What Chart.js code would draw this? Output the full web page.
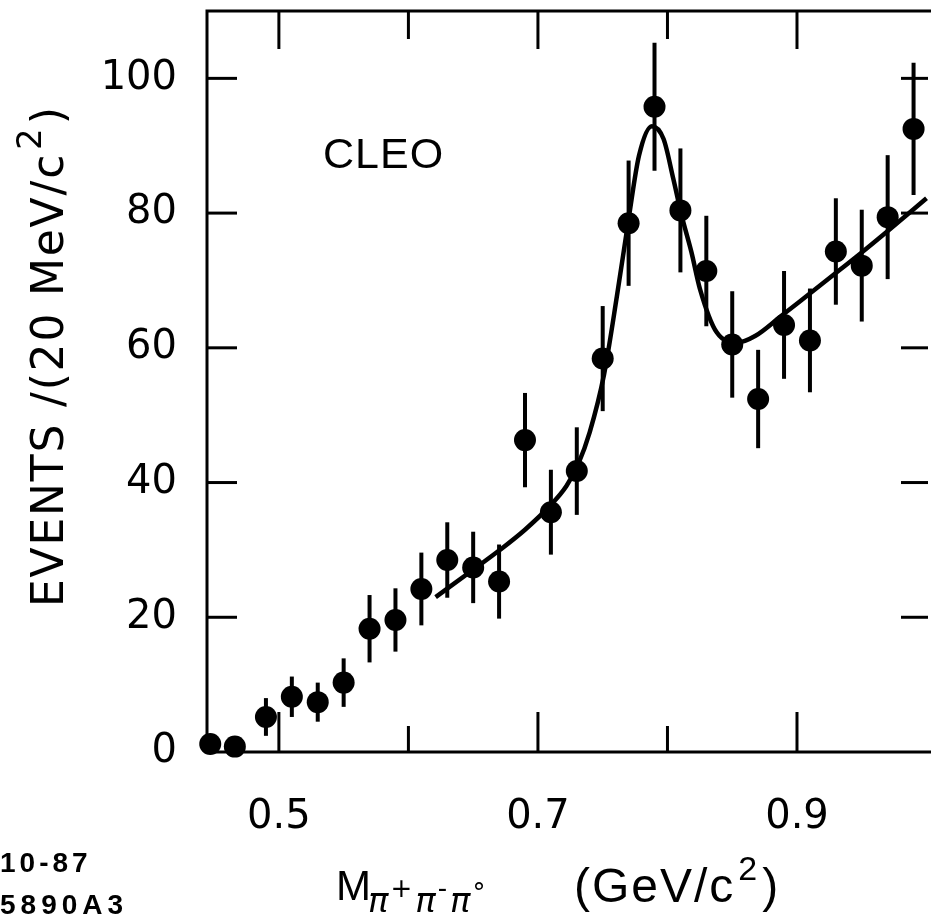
<!DOCTYPE html>
<html>
<head>
<meta charset="utf-8">
<script src="https://cdn.jsdelivr.net/npm/chart.js@4.4.1/dist/chart.umd.min.js"></script>
<style>
  html, body { margin: 0; padding: 0; background: #fff; overflow: hidden; }
  #wrap { width: 937px; height: 921px; }
</style>
</head>
<body>
<div id="wrap"><canvas id="c" width="937" height="921"></canvas></div>
<script>
// ---- data ----
const massBins = [0.447, 0.466, 0.49, 0.51, 0.53, 0.55, 0.57, 0.59, 0.61, 0.63, 0.65, 0.67, 0.69, 0.71,
                  0.73, 0.75, 0.77, 0.79, 0.81, 0.83, 0.85, 0.87, 0.89, 0.91, 0.93, 0.95, 0.97, 0.99];
const events   = [1.2, 0.8, 5.2, 8.2, 7.4, 10.3, 18.3, 19.6, 24.2, 28.5, 27.4, 25.3, 46.3, 35.6,
                  41.7, 58.4, 78.5, 95.8, 80.4, 71.4, 60.5, 52.4, 63.4, 61.1, 74.3, 72.2, 79.4, 92.5];
const eventErr = [1.0, 1.0, 2.8, 3.0, 2.9, 3.6, 5.0, 4.7, 5.4, 5.6, 5.3, 5.5, 7.0, 6.3,
                  6.5, 7.8, 9.3, 9.5, 9.2, 8.2, 7.9, 7.3, 8.0, 7.7, 7.9, 8.3, 9.2, 9.8];

const fitMass   = [0.621, 0.651, 0.670, 0.690, 0.709, 0.722, 0.731, 0.740, 0.751, 0.761, 0.770, 0.778,
                   0.788, 0.797, 0.8045, 0.811, 0.8185, 0.825, 0.838, 0.854, 0.868, 0.887, 0.9075,
                   0.928, 0.949, 0.968, 1.0];
const fitEvents = [23.0, 27.2, 29.9, 33.0, 36.5, 39.5, 42.7, 47.5, 56.0, 67.7, 79.1, 88.5,
                   92.9, 91.0, 85.1, 79.6, 74.2, 68.8, 62.3, 60.8, 61.8, 64.6, 67.7,
                   70.8, 74.0, 77.0, 82.2];

const xTickLabels = [0.5, 0.7, 0.9];
const xTickMarks  = [0.5, 0.6, 0.7, 0.8, 0.9];
const xMajorMarks = [0.5, 0.7, 0.9];
const yTickLabels = [0, 20, 40, 60, 80, 100];
const yTickMarks  = [20, 40, 60, 80, 100];

const X_MIN = 0.4445, X_MAX = 0.9996, Y_MIN = 0, Y_MAX = 110;

const NUM_FONT = '"DejaVu Sans", sans-serif';
const TXT_FONT = '"Liberation Sans", Arial, sans-serif';

function zeroPad(s) { s.paddingLeft = 0; s.paddingRight = 0; s.paddingTop = 0; s.paddingBottom = 0; }

const framePlugin = {
  id: 'frame',
  beforeDatasetsDraw(chart) {
    const {ctx, scales: {x, y}} = chart;
    ctx.save();
    ctx.strokeStyle = '#000';
    ctx.lineWidth = 4;
    ctx.lineCap = 'butt';
    for (let i = 0; i < massBins.length; i++) {
      const px = x.getPixelForValue(massBins[i]);
      const y1 = y.getPixelForValue(events[i] + eventErr[i]);
      const y2 = y.getPixelForValue(events[i] - eventErr[i]);
      ctx.beginPath(); ctx.moveTo(px, y1); ctx.lineTo(px, y2); ctx.stroke();
    }
    ctx.restore();
  },
  afterDraw(chart) {
    const {ctx, chartArea: a, scales: {x, y}} = chart;
    ctx.save();
    ctx.strokeStyle = '#000';
    ctx.lineWidth = 3;
    // frame: left, top, bottom (right axis lies just outside the picture)
    ctx.beginPath();
    ctx.moveTo(a.right + 5, a.top); ctx.lineTo(a.left, a.top);
    ctx.lineTo(a.left, a.bottom); ctx.lineTo(a.right + 5, a.bottom);
    ctx.stroke();
    xTickMarks.forEach(v => {
      const px = x.getPixelForValue(v);
      const major = xMajorMarks.some(m => Math.abs(m - v) < 1e-6);
      const lb = major ? 40 : 26, lt = major ? 38 : 28;
      ctx.beginPath(); ctx.moveTo(px, a.bottom); ctx.lineTo(px, a.bottom - lb); ctx.stroke();
      ctx.beginPath(); ctx.moveTo(px, a.top); ctx.lineTo(px, a.top + lt); ctx.stroke();
    });
    yTickMarks.forEach(v => {
      const py = y.getPixelForValue(v);
      ctx.beginPath(); ctx.moveTo(a.left, py); ctx.lineTo(a.left + 30, py); ctx.stroke();
      ctx.beginPath(); ctx.moveTo(a.right + 2, py); ctx.lineTo(a.right - 25, py); ctx.stroke();
    });

    ctx.fillStyle = '#000';
    ctx.textBaseline = 'alphabetic';
    ctx.textAlign = 'left';
    ctx.font = '43px ' + TXT_FONT;
    drawSpaced(ctx, 'CLEO', 323, 168, 1);

    // y axis title (rotated)
    ctx.save();
    ctx.translate(63, 607);
    ctx.rotate(-Math.PI / 2);
    ctx.font = '44px ' + NUM_FONT;
    let cx = drawSpaced(ctx, 'EVENTS /(20 MeV/c', 0, 0, 1.8);
    ctx.font = '34px ' + NUM_FONT;
    ctx.fillText('2', cx + 3, -22);
    cx += ctx.measureText('2').width + 7;
    ctx.font = '44px ' + NUM_FONT;
    ctx.fillText(')', cx, 0);
    ctx.restore();

    // x axis title
    ctx.font = '42px ' + TXT_FONT;
    ctx.fillText('M', 336, 900);
    let sx = 368;
    const pi = () => { ctx.font = 'italic 34px ' + NUM_FONT; ctx.fillText('\u03C0', sx, 912); sx += ctx.measureText('\u03C0').width + 2; };
    const sup = (t, yy, f) => { ctx.font = f; ctx.fillText(t, sx, yy); sx += ctx.measureText(t).width + 3; };
    pi(); sup('+', 897, '26px ' + NUM_FONT);
    pi(); sup('-', 897, '26px ' + NUM_FONT);
    pi(); sup('\u00B0', 902, '26px ' + NUM_FONT);

    ctx.font = '48px ' + TXT_FONT;
    let gx = 574;
    gx += drawSpaced(ctx, '(GeV/c', gx, 902, 2) + 3;
    ctx.font = '34px ' + TXT_FONT;
    ctx.fillText('2', gx, 880); gx += ctx.measureText('2').width + 5;
    ctx.font = '48px ' + TXT_FONT;
    ctx.fillText(')', gx, 902);

    ctx.font = 'bold 28px ' + TXT_FONT;
    drawSpaced(ctx, '10-87', 0, 872, 4);
    drawSpaced(ctx, '5890A3', 0, 914, 5);
    ctx.restore();
  }
};

function drawSpaced(ctx, text, x0, y0, sp) {
  let xx = x0;
  for (const ch of text) {
    ctx.fillText(ch, xx, y0);
    xx += ctx.measureText(ch).width + sp;
  }
  return xx - x0;
}

const chart = new Chart(document.getElementById('c'), {
  data: {
    datasets: [
      {
        type: 'scatter',
        data: massBins.map((m, i) => ({x: m, y: events[i]})),
        pointRadius: 11,
        pointHoverRadius: 11,
        pointBackgroundColor: '#000',
        pointBorderWidth: 0,
        borderColor: '#000',
        clip: false,
        order: 1
      },
      {
        type: 'line',
        data: fitMass.map((m, i) => ({x: m, y: fitEvents[i]})),
        borderColor: '#000',
        borderWidth: 4.5,
        pointRadius: 0,
        fill: false,
        cubicInterpolationMode: 'monotone',
        clip: false,
        order: 2
      }
    ]
  },
  options: {
    responsive: false,
    animation: false,
    events: [],
    layout: { padding: { top: 11, right: 0, left: 0, bottom: 0 } },
    plugins: { legend: { display: false }, tooltip: { enabled: false } },
    scales: {
      x: {
        type: 'linear',
        min: X_MIN, max: X_MAX,
        grid: { display: false, drawTicks: false },
        border: { display: false },
        afterFit(s) { s.height = 921 - 752; zeroPad(s); },
        afterBuildTicks(s) { s.ticks = xTickLabels.map(v => ({value: v})); },
        ticks: {
          padding: 42,
          color: '#000',
          font: { family: NUM_FONT, size: 40 },
          maxRotation: 0,
          autoSkip: false,
          callback: v => v.toFixed(1)
        }
      },
      y: {
        type: 'linear',
        min: Y_MIN, max: Y_MAX,
        grid: { display: false, drawTicks: false },
        border: { display: false },
        afterFit(s) { s.width = 207; zeroPad(s); },
        afterBuildTicks(s) { s.ticks = yTickLabels.map(v => ({value: v})); },
        ticks: {
          padding: 30,
          color: '#000',
          font: { family: NUM_FONT, size: 40 },
          autoSkip: false,
          callback: v => String(v)
        }
      }
    }
  },
  plugins: [framePlugin]
});
</script>
</body>
</html>
